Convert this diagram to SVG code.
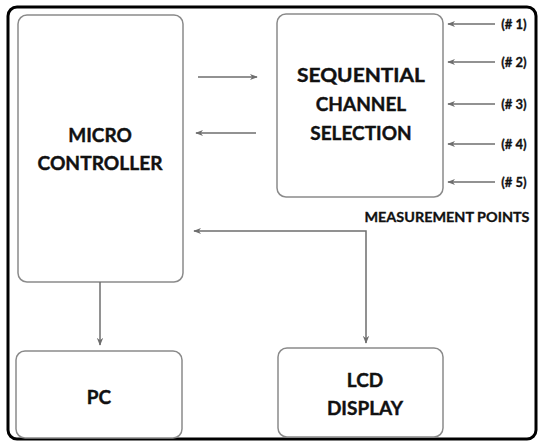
<svg xmlns="http://www.w3.org/2000/svg" width="539" height="448" viewBox="0 0 539 448">
<style>
.box{fill:#fff;stroke:#8a8a8a;stroke-width:1.5}
.t{font-family:Lato,"Open Sans","Liberation Sans",sans-serif;font-weight:bold;fill:#111;stroke:#111;stroke-width:0.4;text-anchor:middle}
.big{font-size:19px}
.sm{font-size:13px;stroke-width:0.3}
.c{fill:none;stroke:#6e6e6e;stroke-width:1.5}
</style>
<defs>
<marker id="ah" viewBox="0 0 10 10" refX="9" refY="5" markerWidth="8" markerHeight="8" markerUnits="userSpaceOnUse" orient="auto-start-reverse">
<path d="M0,1 L10,5 L0,9 L3,5 Z" fill="#6e6e6e"/>
</marker>
</defs>
<rect x="0" y="0" width="539" height="448" fill="#fff"/>
<rect x="8" y="7" width="528" height="432" rx="9" fill="none" stroke="#000" stroke-width="3"/>
<g id="micro">
<rect class="box" x="18" y="15" width="165" height="267" rx="9"/>
<text class="t big" x="100" y="142">MICRO</text>
<text class="t big" x="100" y="170" textLength="125" lengthAdjust="spacingAndGlyphs">CONTROLLER</text>
</g>
<g id="seq">
<rect class="box" x="277" y="14" width="166" height="183" rx="9"/>
<text class="t big" x="361" y="82" textLength="128" lengthAdjust="spacingAndGlyphs">SEQUENTIAL</text>
<text class="t big" x="361" y="111">CHANNEL</text>
<text class="t big" x="361" y="140">SELECTION</text>
</g>
<g id="pc">
<rect class="box" x="16" y="351" width="166" height="87" rx="9"/>
<text class="t big" x="99" y="404">PC</text>
</g>
<g id="lcd">
<rect class="box" x="278" y="348" width="165" height="89" rx="9"/>
<text class="t big" x="365" y="387">LCD</text>
<text class="t big" x="365" y="415">DISPLAY</text>
</g>
<g id="points">
<text class="t sm" x="514" y="29">(# 1)</text>
<text class="t sm" x="514" y="67">(# 2)</text>
<text class="t sm" x="514" y="109">(# 3)</text>
<text class="t sm" x="514" y="149">(# 4)</text>
<text class="t sm" x="514" y="187">(# 5)</text>
<text class="t sm" x="447" y="222" textLength="165" lengthAdjust="spacingAndGlyphs">MEASUREMENT POINTS</text>
</g>
<g id="connectors">
<line class="c" x1="198" y1="77" x2="257" y2="77" marker-end="url(#ah)"/>
<line class="c" x1="256" y1="133" x2="196" y2="133" marker-end="url(#ah)"/>
<path class="c" d="M194,231 H366 V343" marker-start="url(#ah)" marker-end="url(#ah)"/>
<line class="c" x1="100" y1="282" x2="100" y2="345" marker-end="url(#ah)"/>
<line class="c" x1="495" y1="24" x2="448" y2="24" marker-end="url(#ah)"/>
<line class="c" x1="495" y1="62" x2="448" y2="62" marker-end="url(#ah)"/>
<line class="c" x1="495" y1="104" x2="448" y2="104" marker-end="url(#ah)"/>
<line class="c" x1="495" y1="144" x2="448" y2="144" marker-end="url(#ah)"/>
<line class="c" x1="495" y1="182" x2="448" y2="182" marker-end="url(#ah)"/>
</g>
</svg>
